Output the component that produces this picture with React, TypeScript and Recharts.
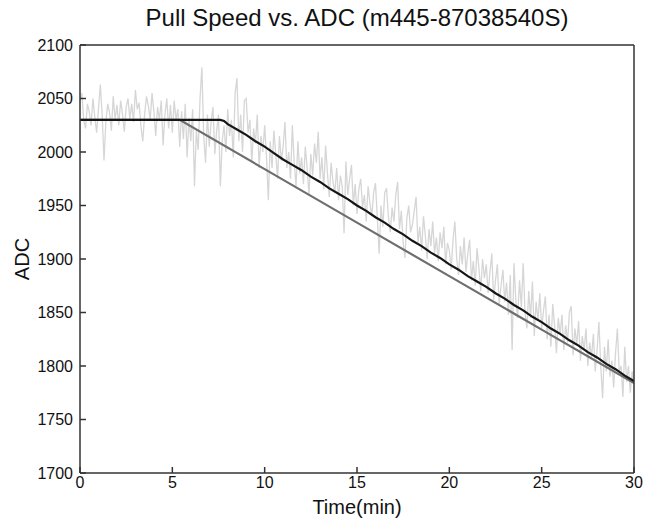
import React from 'react';
import { LineChart, Line, XAxis, YAxis } from 'recharts';

const title = 'Pull Speed vs. ADC (m445-87038540S)';
const xLabel = 'Time(min)';
const yLabel = 'ADC';

const xTicks = [0, 5, 10, 15, 20, 25, 30];
const yTicks = [1700, 1750, 1800, 1850, 1900, 1950, 2000, 2050, 2100];

// raw ADC samples, one every 0.1 min from 0 to 30
const rawStep = 0.1;
const rawAdc = [
  2048, 2055, 2030, 2022, 2045, 2038, 2025, 2050, 2033, 2018,
  2040, 2063, 2035, 1992, 2028, 2045, 2037, 2020, 2052, 2030,
  2044, 2025, 2048, 2036, 2019, 2042, 2050, 2031, 2045, 2028,
  2058, 2040, 2046, 2024, 2010, 2035, 2052, 2043, 2030, 2055,
  2038, 2015, 2042, 2030, 2048, 2006, 2035, 2050, 2022, 2044,
  2018, 2048, 2030, 2040, 2005, 2038, 2012, 2045, 1995, 2032,
  2010, 2040, 1968, 2020, 2002, 2050, 2079, 2015, 1990, 2035,
  2005, 2028, 2042, 1998, 2020, 2035, 1968, 2010, 2025, 2000,
  2040, 2015, 2030, 1995, 2055, 2069, 2010, 2035, 2000, 2048,
  2050, 2018, 2030, 1990, 2022, 2008, 2035, 1985, 2015, 2000,
  2025, 1995, 1955, 2010, 1985, 2020, 1998, 1975, 2015, 1992,
  2005, 2028, 1985, 2000, 1975, 2025, 1990, 1968, 2010, 1980,
  1995, 1970, 2005, 1985, 1960, 1998, 1978, 2008, 1990, 2019,
  1975, 1995, 1965, 2006, 1980, 1958, 1990, 1972, 1962, 1985,
  1955, 1978, 1968, 1924, 1991, 1960, 1975, 1988, 1950, 1970,
  1942, 1965, 1975, 1948, 1960, 1935, 1968, 1952, 1940, 1962,
  1971, 1938, 1905, 1950, 1930, 1962, 1966, 1940, 1925, 1948,
  1935, 1960, 1972, 1928, 1945, 1915, 1901, 1938, 1950, 1925,
  1932, 1945, 1958, 1915, 1930, 1908, 1940, 1922, 1900, 1928,
  1912, 1935, 1905, 1920, 1898, 1925, 1910, 1930, 1895, 1915,
  1908, 1890, 1918, 1935, 1900, 1885, 1912, 1895, 1920, 1888,
  1905, 1918, 1880, 1898, 1875, 1910, 1892, 1870, 1900, 1882,
  1895, 1868, 1888, 1905, 1862, 1880, 1895, 1858, 1875, 1890,
  1860, 1878, 1848, 1885, 1815, 1896, 1862, 1845, 1880, 1855,
  1896, 1850, 1835, 1870, 1845, 1879, 1828, 1860, 1842, 1868,
  1835, 1852, 1865, 1825, 1848, 1818, 1858, 1838, 1812, 1845,
  1830, 1848, 1815, 1838, 1822, 1850, 1856, 1810, 1835, 1820,
  1842, 1805, 1828, 1815, 1835, 1800, 1822, 1808, 1830, 1795,
  1815, 1841, 1800, 1770, 1818, 1795, 1825, 1790, 1805, 1780,
  1812, 1835, 1795, 1800, 1771, 1818, 1785, 1800, 1775, 1795,
  1782,
];

// filtered ADC (black)
const filteredTimes = [0, 7.6, 7.8, 8.0, 8.5, 9, 9.5, 10, 10.5, 11, 11.5, 12, 12.5, 13, 13.5, 14, 14.5, 15, 15.5, 16, 16.5, 17, 17.5, 18, 18.5, 19, 19.5, 20, 20.5, 21, 21.5, 22, 22.5, 23, 23.5, 24, 24.5, 25, 25.5, 26, 26.5, 27, 27.5, 28, 28.5, 29, 29.5, 30];
const filteredAdc = [2030, 2030, 2029, 2026, 2021, 2016, 2010, 2005, 1999, 1993, 1988, 1983, 1977, 1972, 1966, 1961, 1956, 1950, 1945, 1939, 1934, 1928, 1923, 1917, 1912, 1906, 1901, 1895, 1890, 1884, 1879, 1874, 1868, 1863, 1857, 1852, 1846, 1841, 1835, 1830, 1824, 1819, 1813, 1808, 1802, 1797, 1791, 1786];

// pull-speed model (gray)
const modelTimes = [0, 5.4, 10, 15, 20, 25, 30];
const modelAdc = [2030, 2030, 1984, 1934, 1884, 1834, 1784];

const rawData = rawAdc.map((v, i) => ({ t: Math.round(i * rawStep * 10) / 10, v }));
const filteredData = filteredTimes.map((t, i) => ({ t, v: filteredAdc[i] }));
const modelData = modelTimes.map((t, i) => ({ t, v: modelAdc[i] }));

const FONT = '"Liberation Sans", Arial, Helvetica, sans-serif';
const AXIS = '#333333';

export default function App() {
  return (
    <div style={{ position: 'absolute', left: 0, top: 0, width: 645, height: 523, background: '#fff', fontFamily: FONT }}>
      <LineChart width={645} height={523} margin={{ top: 44, right: 10, bottom: 0, left: 0 }}>
        <XAxis
          xAxisId="b"
          dataKey="t"
          type="number"
          domain={[0, 30]}
          ticks={xTicks}
          allowDataOverflow
          height={50}
          tickSize={-6}
          tickMargin={10}
          stroke={AXIS}
          strokeWidth={1.5}
          tick={{ fill: '#111', fontSize: 16, fontFamily: FONT }}
        />
        <XAxis
          xAxisId="t"
          orientation="top"
          dataKey="t"
          type="number"
          domain={[0, 30]}
          ticks={xTicks}
          height={1}
          tickSize={-6}
          tick={false}
          stroke={AXIS}
          strokeWidth={1.5}
        />
        <YAxis
          yAxisId="l"
          type="number"
          domain={[1700, 2100]}
          ticks={yTicks}
          allowDataOverflow
          width={80}
          tickSize={-6}
          tickMargin={13}
          stroke={AXIS}
          strokeWidth={1.5}
          tick={{ fill: '#111', fontSize: 16, fontFamily: FONT }}
        />
        <YAxis
          yAxisId="r"
          orientation="right"
          type="number"
          domain={[1700, 2100]}
          ticks={yTicks}
          width={1}
          tickSize={-6}
          tick={false}
          stroke={AXIS}
          strokeWidth={1.5}
        />
        <Line xAxisId="b" yAxisId="l" data={rawData} dataKey="v" stroke="#d6d6d6" strokeWidth={1.3} dot={false} isAnimationActive={false} />
        <Line xAxisId="b" yAxisId="l" data={modelData} dataKey="v" stroke="#6e6e6e" strokeWidth={2.2} dot={false} isAnimationActive={false} />
        <Line xAxisId="b" yAxisId="l" data={filteredData} dataKey="v" stroke="#161616" strokeWidth={2.2} dot={false} isAnimationActive={false} />
      </LineChart>
      <div style={{ position: 'absolute', left: 0, width: 714, top: 4, textAlign: 'center', fontSize: 24, color: '#111', lineHeight: '28px' }}>{title}</div>
      <div style={{ position: 'absolute', left: 0, width: 714, top: 495, textAlign: 'center', fontSize: 20, color: '#111', lineHeight: '24px' }}>{xLabel}</div>
      <div style={{ position: 'absolute', left: 22, top: 259, width: 0, height: 0 }}>
        <div style={{ position: 'absolute', left: -40, top: -12, width: 80, textAlign: 'center', fontSize: 20, color: '#111', lineHeight: '24px', transform: 'rotate(-90deg)' }}>{yLabel}</div>
      </div>
    </div>
  );
}
